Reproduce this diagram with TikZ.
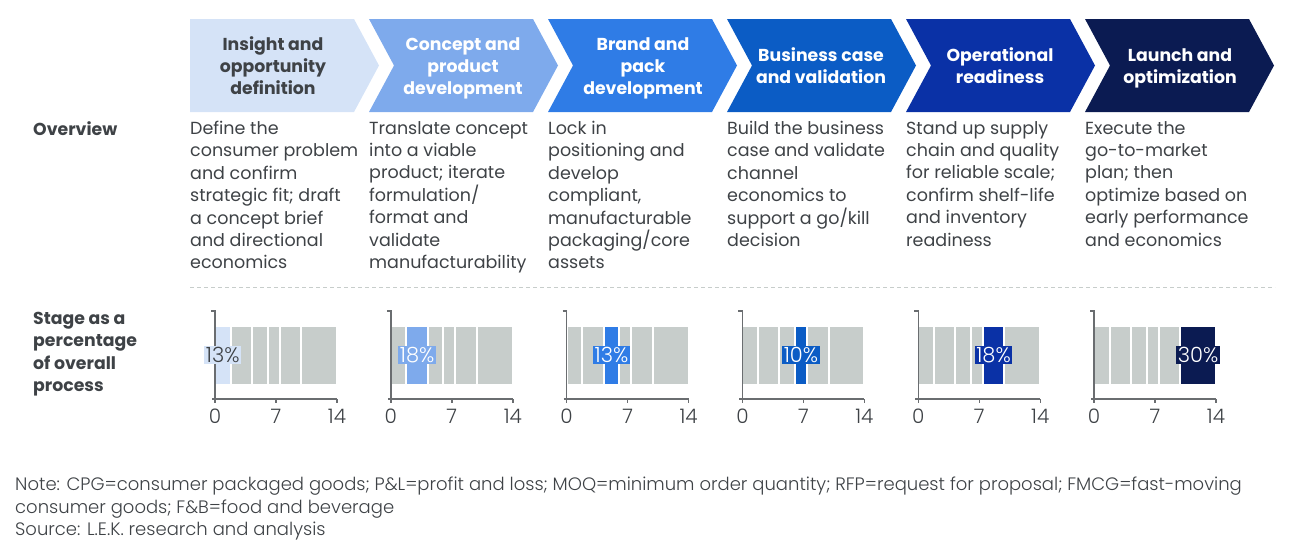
\documentclass[tikz,border=0pt]{standalone}
\usepackage{fontspec}
\setmainfont{Poppins}
\newfontfamily\lightfont{Poppins Light}
\definecolor{stA}{HTML}{D5E3F7}
\definecolor{stB}{HTML}{7EAAEC}
\definecolor{stC}{HTML}{2F7CE6}
\definecolor{stD}{HTML}{0B5CC5}
\definecolor{stE}{HTML}{0A31A6}
\definecolor{stF}{HTML}{0B1B52}
\definecolor{ink}{HTML}{3E4246}
\definecolor{barg}{HTML}{C7CDCB}
\definecolor{axisg}{HTML}{6A6D70}
\begin{document}
\begin{tikzpicture}[x=1pt,y=-1pt,
  struts/.style={execute at begin node=\strut, execute at end node=\strut},
  chevtext/.style={font={\bfseries\fontsize{17.3}{22}\selectfont}, align=center, inner sep=0pt, struts},
  ovtext/.style={font={\fontsize{17.5}{22.4}\selectfont}, text=ink, align=left, anchor=north west, inner sep=0pt, struts},
  rowhead/.style={font={\bfseries\fontsize{17.3}{22.4}\selectfont}, text=ink, align=left, anchor=north west, inner sep=0pt, struts},
  ticklab/.style={font={\lightfont\fontsize{20}{20}\selectfont}, text=ink, inner sep=0pt},
  pctlab/.style={font={\lightfont\fontsize{21}{21}\selectfont}, inner xsep=1.5pt, inner ysep=2pt, text height=14.5pt, text depth=0pt},
  axisline/.style={draw=axisg, line width=1.4pt},
  notetext/.style={font={\lightfont\fontsize{18}{22.2}\selectfont}, text=ink, align=left, anchor=north west, inner sep=0pt, struts}
]
\useasboundingbox (0,0) rectangle (1300,549);

% ---- stage chevrons ----
\fill[stA] (190,19) -- (354,19) -- (379,65.5) -- (354,112) -- (190,112) -- cycle;
\foreach \i/\c in {1/stB,2/stC,3/stD,4/stE,5/stF}{
  \pgfmathsetmacro\L{190+179*\i}
  \fill[\c] (\L,19) -- ({\L+164},19) -- ({\L+189},65.5) -- ({\L+164},112) -- (\L,112) -- ({\L+25},65.5) -- cycle;
}
\node[chevtext, text=ink]   (h1) at (273,69)  {Insight and\\opportunity\\definition};
\node[chevtext, text=white] (h2) at (463,69)  {Concept and\\product\\development};
\node[chevtext, text=white] (h3) at (643,69)  {Brand and\\pack\\development};
\node[chevtext, text=white] (h4) at (821,69)  {Business case\\and validation};
\node[chevtext, text=white] (h5) at (1000,69) {Operational\\readiness};
\node[chevtext, text=white] (h6) at (1180,69) {Launch and\\optimization};

% ---- overview row ----
\node[rowhead] (rowov) at (33,120) {Overview};
\node[ovtext] (ov1) at (190,121)  {Define the\\consumer problem\\and confirm\\strategic fit; draft\\a concept brief\\and directional\\economics};
\node[ovtext] (ov2) at (369,121)  {Translate concept\\into a viable\\product; iterate\\formulation/\\format and\\validate\\manufacturability};
\node[ovtext] (ov3) at (548,121)  {Lock in\\positioning and\\develop\\compliant,\\manufacturable\\packaging/core\\assets};
\node[ovtext] (ov4) at (727,121)  {Build the business\\case and validate\\channel\\economics to\\support a go/kill\\decision};
\node[ovtext] (ov5) at (906,121)  {Stand up supply\\chain and quality\\for reliable scale;\\confirm shelf-life\\and inventory\\readiness};
\node[ovtext] (ov6) at (1085,121) {Execute the\\go-to-market\\plan; then\\optimize based on\\early performance\\and economics};

% ---- separator ----
\coordinate (sepL) at (190,287);
\coordinate (sepR) at (1275,287);
\draw[draw=barg, line width=1pt, dash pattern=on 4pt off 3pt] (sepL) -- (sepR);

% ---- stage share charts ----
\node[rowhead] (rowst) at (33,312) {Stage as a\\percentage\\of overall\\process};

\foreach \i/\c/\p/\t in {0/stA/13/ink,1/stB/18/white,2/stC/13/white,3/stD/10/white,4/stE/18/white,5/stF/30/white}{
  \pgfmathsetmacro\X{215+175.8*\i}
  % grey segments, one per stage, scaled to the summed shares
  \foreach \a/\b [count=\k from 0] in {0/13,13/31,31/44,44/54,54/72,72/102}{
    \pgfmathsetmacro\xa{\X+\a*122/102+1}
    \pgfmathsetmacro\xb{\X+\b*122/102-1}
    \ifnum\k=\i
      \fill[\c] (\xa,327) rectangle (\xb,384);
      \coordinate (mid\i) at ({(\xa+\xb)/2},355);
    \else
      \fill[barg] (\xa,327) rectangle (\xb,384);
    \fi
  }
  % axes
  \draw[axisline] (\X-4,311) -- (\X,311) -- (\X,403);
  \draw[axisline] (\X-3,399) -- (\X+122,399);
  \draw[axisline] (\X+61,399) -- (\X+61,403);
  \draw[axisline] (\X+122,399) -- (\X+122,403);
  \node[ticklab] (t0-\i)  at (\X,416)     {0};
  \node[ticklab] (t7-\i)  at (\X+61,416)  {7};
  \node[ticklab] (t14-\i) at (\X+122,416) {14};
  \node[pctlab, fill=\c, text=\t] (pct\i) at (mid\i) {\p\%};
}

% ---- notes ----
\node[notetext] (note) at (15,477) {Note: CPG=consumer packaged goods; P\&L=profit and loss; MOQ=minimum order quantity; RFP=request for proposal; FMCG=fast-moving\\consumer goods; F\&B=food and beverage\\Source: L.E.K. research and analysis};
\end{tikzpicture}
\end{document}
